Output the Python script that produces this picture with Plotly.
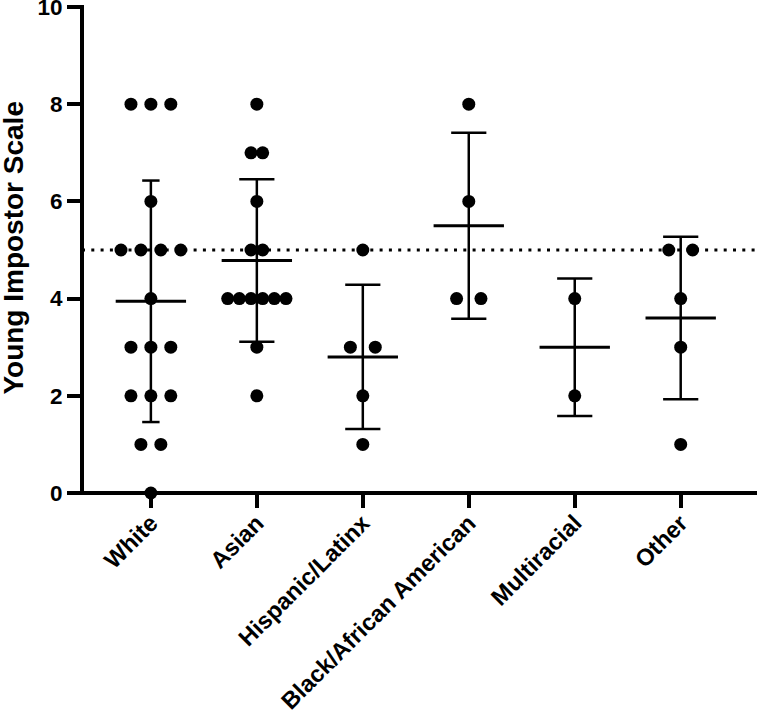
import plotly.graph_objects as go
import numpy as np

# ---------------- data ----------------
categories = ["White", "Asian", "Hispanic/Latinx", "Black/African American", "Multiracial", "Other"]
white = [8, 8, 8, 6, 5, 5, 5, 5, 4, 3, 3, 3, 2, 2, 2, 1, 1, 0]
asian = [8, 7, 7, 6, 5, 5, 4, 4, 4, 4, 4, 4, 3, 2]
hispanic = [5, 3, 3, 2, 1]
black = [8, 6, 4, 4]
multiracial = [4, 2]
other = [5, 5, 4, 3, 1]
y_tick_values = [0, 2, 4, 6, 8, 10]
reference_line = 5
y_title = "Young Impostor Scale"

groups = [white, asian, hispanic, black, multiracial, other]

# ---------------- layout / style ----------------
dot_spacing = [0.188, 0.11, 0.235, 0.23, 0.23, 0.225]   # horizontal spread between tied dots (category units)
cap_half = [0.082, 0.166, 0.166, 0.166, 0.166, 0.166]    # error-bar cap half width
mean_half = 0.332                                         # mean-line half width
FONT = "Liberation Sans, Arial, sans-serif"
X_MIN, X_MAX = -0.65, 5.72
PLOT_L, PLOT_W = 82, 675
PLOT_T, PLOT_B = 7, 219
PLOT_H = 712 - PLOT_T - PLOT_B
AXIS_W = 4

xs, ys = [], []
mean_x, mean_y = [], []
err_x, err_y = [], []
for gi, vals in enumerate(groups):
    arr = np.array(vals, dtype=float)
    for v in sorted(set(vals), reverse=True):
        n = vals.count(v)
        for i in range(n):
            xs.append(gi + (i - (n - 1) / 2) * dot_spacing[gi])
            ys.append(v)
    m = arr.mean()
    sd = arr.std(ddof=1)
    mean_x += [gi - mean_half, gi + mean_half, None]
    mean_y += [m, m, None]
    lo, hi = m - sd, m + sd
    err_x += [gi, gi, None, gi - cap_half[gi], gi + cap_half[gi], None, gi - cap_half[gi], gi + cap_half[gi], None]
    err_y += [lo, hi, None, hi, hi, None, lo, lo, None]

fig = go.Figure()
fig.add_trace(go.Scatter(x=err_x, y=err_y, mode="lines", line=dict(color="black", width=2.5),
                         hoverinfo="skip", showlegend=False, cliponaxis=False))
fig.add_trace(go.Scatter(x=mean_x, y=mean_y, mode="lines", line=dict(color="black", width=3),
                         hoverinfo="skip", showlegend=False, cliponaxis=False))
fig.add_trace(go.Scatter(x=xs, y=ys, mode="markers", marker=dict(color="black", size=13, line=dict(width=0)),
                         showlegend=False, cliponaxis=False))

# dotted reference line
fig.add_shape(type="line", xref="paper", x0=0, x1=1, yref="y", y0=reference_line, y1=reference_line,
              line=dict(color="black", width=3, dash="3px,6.3px"), layer="below")

# axis lines centred on the plot edges (x axis line sits on y = 0)
hx = (AXIS_W / 2) / PLOT_W
hy = (AXIS_W / 2) / PLOT_H
fig.add_shape(type="line", xref="paper", yref="paper", x0=-hx, x1=1, y0=0, y1=0,
              line=dict(color="black", width=AXIS_W), layer="above")
fig.add_shape(type="line", xref="paper", yref="paper", x0=0, x1=0, y0=-hy, y1=1 + hy,
              line=dict(color="black", width=AXIS_W), layer="above")

fig.add_annotation(text=y_title, textangle=-90, xref="paper", yref="paper",
                   x=(14 - PLOT_L) / PLOT_W, y=0.505, xanchor="center", yanchor="middle",
                   showarrow=False,
                   font=dict(family=FONT, size=28, color="black", weight="bold"))

fig.update_layout(
    width=757, height=712,
    margin=dict(l=PLOT_L, r=0, t=PLOT_T, b=PLOT_B, pad=0, autoexpand=False),
    plot_bgcolor="white", paper_bgcolor="white",
    font=dict(family=FONT, size=22, color="black", weight="bold"),
    xaxis=dict(range=[X_MIN, X_MAX], tickvals=list(range(len(categories))), ticktext=categories,
               tickangle=-45, showgrid=False, zeroline=False, showline=False,
               ticks="outside", ticklen=14, tickwidth=4, tickcolor="black", automargin=False,
               ticklabelstandoff=-8,
               tickfont=dict(family=FONT, size=23.5, color="black", weight="bold")),
    yaxis=dict(range=[0, 10], tickvals=y_tick_values, showgrid=False, zeroline=False, showline=False,
               ticks="outside", ticklen=14, tickwidth=4, tickcolor="black",
               automargin=False, ticklabeloverflow="allow",
               tickfont=dict(family=FONT, size=22.5, color="black", weight="bold")),
)

fig.write_html("out.html", config={"displayModeBar": False},
               post_script="document.body.style.margin='0';document.body.style.padding='0';")
